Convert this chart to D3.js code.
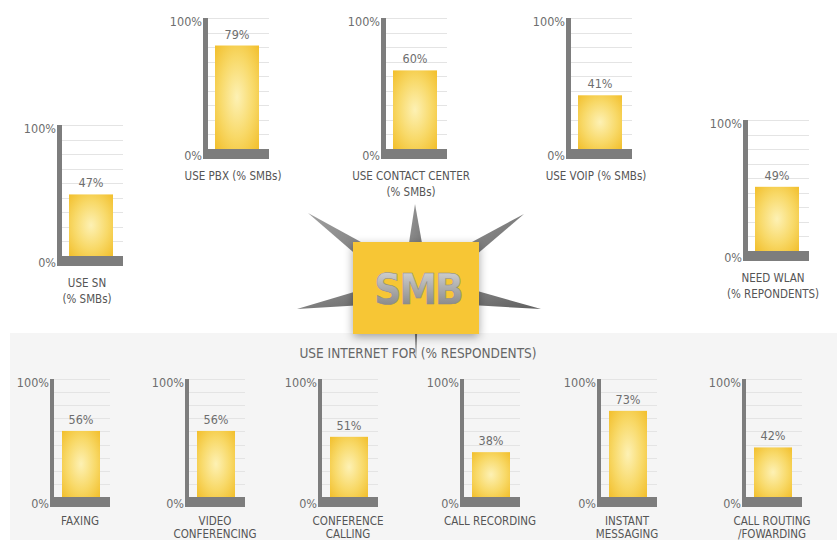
<!DOCTYPE html>
<html>
<head>
<meta charset="utf-8">
<script src="https://cdn.jsdelivr.net/npm/d3@7"></script>
<style>
  body { margin: 0; background: #fff; }
  svg text { font-family: "DejaVu Sans Condensed", "Liberation Sans Narrow", sans-serif; }
</style>
</head>
<body>
<svg id="chart" width="837" height="540"></svg>
<script>
// data
var topLabels = [
    [ 'USE SN', '(% SMBs)' ],
    [ 'USE PBX (% SMBs)' ],
    [ 'USE CONTACT CENTER', '(% SMBs)' ],
    [ 'USE VOIP (% SMBs)' ],
    [ 'NEED WLAN', '(% REPONDENTS)' ]
];
var topValues = [ 47, 79, 60, 41, 49 ];

var bottomLabels = [
    [ 'FAXING' ],
    [ 'VIDEO', 'CONFERENCING' ],
    [ 'CONFERENCE', 'CALLING' ],
    [ 'CALL RECORDING' ],
    [ 'INSTANT', 'MESSAGING' ],
    [ 'CALL ROUTING', '/FOWARDING' ]
];
var bottomValues = [ 56, 56, 51, 38, 73, 42 ];

var axisTicks = [ 0, 100 ];
var panelTitle = 'USE INTERNET FOR (% RESPONDENTS)';
var centerTitle = 'SMB';

// layout (where each little chart sits)
var topSlots = [ [ 57, 125 ], [ 203, 18 ], [ 381, 18 ], [ 566, 18 ], [ 743, 120 ] ];
var bottomSlots = [ [ 50, 379 ], [ 185, 379 ], [ 318, 379 ], [ 460, 379 ], [ 597, 379 ], [ 742, 379 ] ];

var topSize = { h: 131, axisW: 5, baseW: 66, barX: 12, barW: 44, labelY: 31, lineH: 16 };
var bottomSize = { h: 118, axisW: 4, baseW: 60, barX: 12, barW: 38, labelY: 28, lineH: 13 };

var svg = d3.select( '#chart' );
var defs = svg.append( 'defs' );

var barGrad = defs.append( 'radialGradient' )
    .attr( 'id', 'barGrad' )
    .attr( 'cx', '50%' ).attr( 'cy', '50%' ).attr( 'r', '70%' );
barGrad.append( 'stop' ).attr( 'offset', '0%' ).attr( 'stop-color', '#fdf1b4' );
barGrad.append( 'stop' ).attr( 'offset', '55%' ).attr( 'stop-color', '#f8d968' );
barGrad.append( 'stop' ).attr( 'offset', '100%' ).attr( 'stop-color', '#f2bf2c' );

var spikeGrad = defs.append( 'linearGradient' )
    .attr( 'id', 'spikeGrad' )
    .attr( 'x1', '0' ).attr( 'y1', '0' ).attr( 'x2', '1' ).attr( 'y2', '1' );
spikeGrad.append( 'stop' ).attr( 'offset', '0%' ).attr( 'stop-color', '#a0a0a0' );
spikeGrad.append( 'stop' ).attr( 'offset', '100%' ).attr( 'stop-color', '#5e5e5e' );

var textGrad = defs.append( 'linearGradient' )
    .attr( 'id', 'textGrad' )
    .attr( 'x1', '0' ).attr( 'y1', '0' ).attr( 'x2', '0' ).attr( 'y2', '1' );
textGrad.append( 'stop' ).attr( 'offset', '0%' ).attr( 'stop-color', '#dcdcdc' );
textGrad.append( 'stop' ).attr( 'offset', '100%' ).attr( 'stop-color', '#787878' );

var shadow = defs.append( 'filter' ).attr( 'id', 'shadow' )
    .attr( 'x', '-30%' ).attr( 'y', '-30%' ).attr( 'width', '160%' ).attr( 'height', '160%' );
shadow.append( 'feDropShadow' )
    .attr( 'dx', 0 ).attr( 'dy', 3 ).attr( 'stdDeviation', 5 )
    .attr( 'flood-color', '#000' ).attr( 'flood-opacity', 0.35 );

// bottom panel
svg.append( 'rect' )
    .attr( 'x', 10 ).attr( 'y', 333 )
    .attr( 'width', 827 ).attr( 'height', 207 )
    .attr( 'fill', '#f5f5f5' );

svg.append( 'text' )
    .attr( 'x', 418 ).attr( 'y', 358 )
    .attr( 'text-anchor', 'middle' )
    .attr( 'font-size', 13.5 )
    .attr( 'fill', '#666' )
    .text( panelTitle );

// centre badge with its spikes
var cx = 416, cy = 288;
var tips = [ [ 308, 213 ], [ 415, 204 ], [ 524, 214 ], [ 297, 309 ], [ 541, 309 ], [ 416, 360 ] ];
var badge = svg.append( 'g' );

badge.selectAll( 'path.spike' )
    .data( tips )
    .enter()
    .append( 'path' )
    .attr( 'class', 'spike' )
    .attr( 'fill', 'url(#spikeGrad)' )
    .attr( 'd', function( t, i ) {
        var dx = t[ 0 ] - cx, dy = t[ 1 ] - cy;
        var len = Math.sqrt( dx * dx + dy * dy );
        var hw = i === 5 ? 3 : 14;
        var px = -dy / len * hw, py = dx / len * hw;
        return 'M' + t[ 0 ] + ',' + t[ 1 ] +
            'L' + ( cx + px ) + ',' + ( cy + py ) +
            'L' + ( cx - px ) + ',' + ( cy - py ) + 'Z';
    });

badge.append( 'rect' )
    .attr( 'x', 353 ).attr( 'y', 242 )
    .attr( 'width', 126 ).attr( 'height', 92 )
    .attr( 'fill', '#f7c634' )
    .attr( 'filter', 'url(#shadow)' );

badge.append( 'text' )
    .attr( 'x', 418 ).attr( 'y', 304 )
    .attr( 'text-anchor', 'middle' )
    .attr( 'font-size', 42 )
    .attr( 'font-weight', 'bold' )
    .attr( 'letter-spacing', -2 )
    .attr( 'fill', 'url(#textGrad)' )
    .attr( 'stroke', '#8a8a8a' )
    .attr( 'stroke-width', 0.5 )
    .text( centerTitle );

// one little bar chart
function miniChart( slot, value, lines, size ) {
    var g = svg.append( 'g' )
        .attr( 'transform', 'translate(' + slot[ 0 ] + ',' + slot[ 1 ] + ')' );

    var y = d3.scaleLinear().domain( [ 0, 100 ] ).range( [ size.h, 0 ] );
    var grid = d3.range( 1, 10 ).map( function( i ) { return i * 100 / 9; } );

    g.selectAll( 'line.grid' )
        .data( grid )
        .enter()
        .append( 'line' )
        .attr( 'x1', size.axisW ).attr( 'x2', size.baseW )
        .attr( 'y1', function( d ) { return Math.round( y( d ) ) + 0.5; } )
        .attr( 'y2', function( d ) { return Math.round( y( d ) ) + 0.5; } )
        .attr( 'stroke', '#e4e4e4' )
        .attr( 'stroke-width', 1 );

    g.append( 'rect' )
        .attr( 'x', size.barX ).attr( 'y', y( value ) )
        .attr( 'width', size.barW ).attr( 'height', size.h - y( value ) )
        .attr( 'fill', 'url(#barGrad)' );

    g.append( 'text' )
        .attr( 'x', size.barX + size.barW / 2 )
        .attr( 'y', y( value ) - 7 )
        .attr( 'text-anchor', 'middle' )
        .attr( 'font-size', 12.5 )
        .attr( 'fill', '#6e6e6e' )
        .text( value + '%' );

    // the thick grey L
    g.append( 'rect' )
        .attr( 'x', 0 ).attr( 'y', 0 )
        .attr( 'width', size.axisW ).attr( 'height', size.h + 10 )
        .attr( 'fill', '#7d7d7d' );
    g.append( 'rect' )
        .attr( 'x', 0 ).attr( 'y', size.h )
        .attr( 'width', size.baseW ).attr( 'height', 10 )
        .attr( 'fill', '#7d7d7d' );

    var axis = g.append( 'g' )
        .call( d3.axisLeft( y ).tickValues( axisTicks ).tickSize( 0 ).tickPadding( 1 )
            .tickFormat( function( d ) { return d + '%'; } ) );
    axis.select( '.domain' ).remove();
    axis.selectAll( 'text' )
        .attr( 'font-size', 12.5 )
        .attr( 'fill', '#6e6e6e' )
        .attr( 'font-family', '"DejaVu Sans Condensed", sans-serif' )
        .attr( 'dy', function( d ) { return d === 0 ? '0.85em' : '0.6em'; } );

    var label = g.append( 'text' )
        .attr( 'text-anchor', 'middle' )
        .attr( 'font-size', 11.5 )
        .attr( 'fill', '#555' );
    label.selectAll( 'tspan' )
        .data( lines )
        .enter()
        .append( 'tspan' )
        .attr( 'x', 30 )
        .attr( 'y', function( d, i ) { return size.h + size.labelY + i * size.lineH; } )
        .text( function( d ) { return d; } );
}

topValues.forEach( function( v, i ) {
    miniChart( topSlots[ i ], v, topLabels[ i ], topSize );
});
bottomValues.forEach( function( v, i ) {
    miniChart( bottomSlots[ i ], v, bottomLabels[ i ], bottomSize );
});
</script>
</body>
</html>
